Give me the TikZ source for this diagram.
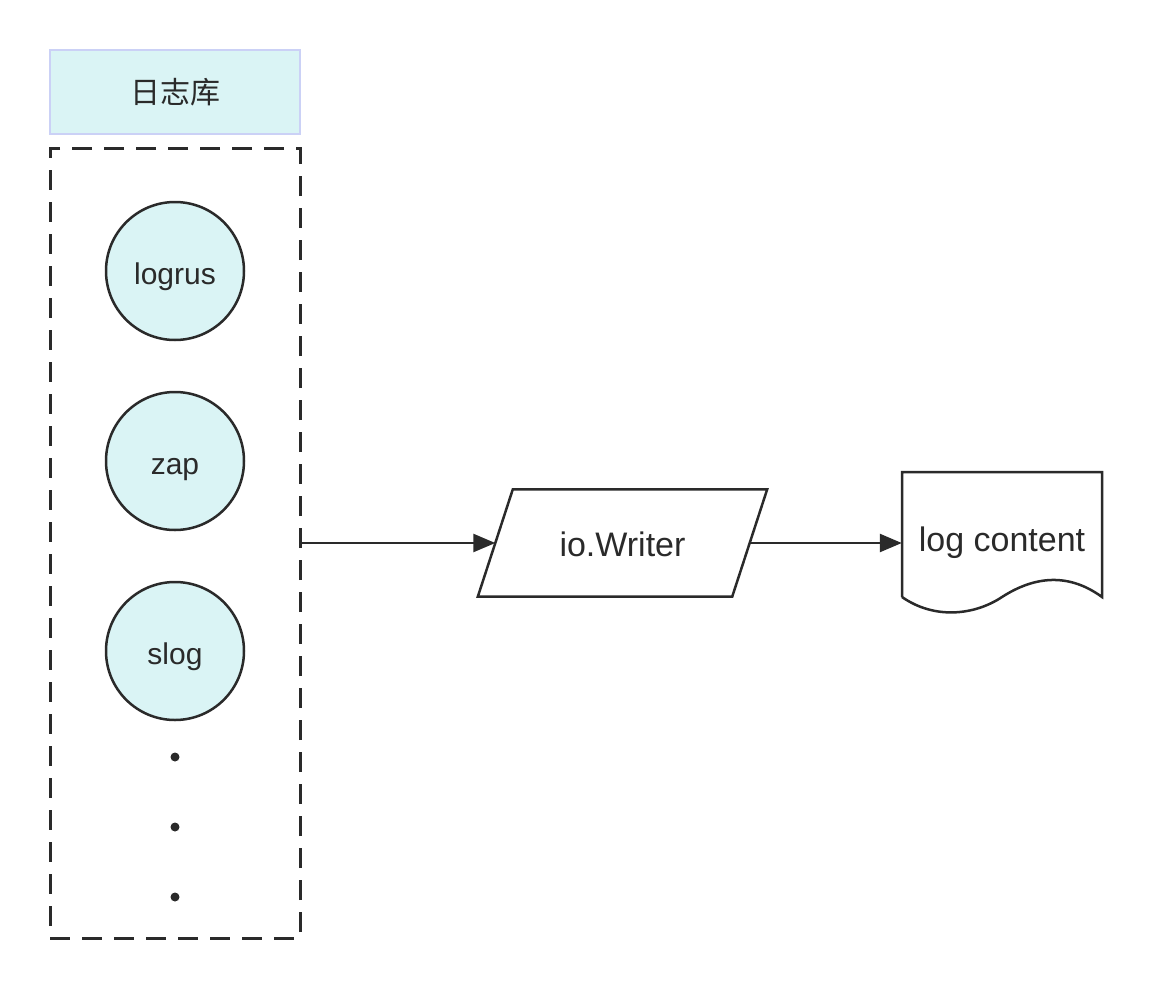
\documentclass[tikz,border=0pt]{standalone}
\usepackage{fontspec}
\setmainfont{Liberation Sans}
\newfontfamily\cjk{Noto Sans CJK SC}
\usetikzlibrary{arrows.meta}
\definecolor{ink}{HTML}{2A2A2A}
\definecolor{cyanfill}{HTML}{DAF4F5}
\definecolor{lavender}{HTML}{CBD1F6}
\begin{document}
\begin{tikzpicture}[x=1pt,y=-1pt,
    txt/.style={text=ink,text height=32pt,text depth=6pt},
    lib/.style={circle,draw=ink,line width=2.5pt,fill=cyanfill,minimum size=138pt,
      inner sep=0pt,txt,font=\fontsize{30}{34}\selectfont},
    dot/.style={circle,fill=ink,minimum size=9pt,inner sep=0pt},
    link/.style={-{Triangle[length=22pt,width=18pt]},draw=ink,line width=2.5pt}]
      \useasboundingbox (0,0) rectangle (1152,988);
      \draw
        (175,92) node[draw=lavender,line width=2.5pt,fill=cyanfill,minimum width=250pt,
          minimum height=84pt,text=ink,font=\cjk\fontsize{30}{34}\selectfont] (title){日志库}
        (175,543) node[draw=ink,line width=3pt,dash pattern=on 20pt off 12pt,
          minimum width=250pt,minimum height=790pt] (libs){}
        (175,271) node[lib] (logrus){logrus}
        (175,461) node[lib] (zap){zap}
        (175,651) node[lib] (slog){slog}
        (175,757) node[dot] (dot1){}
        (175,827) node[dot] (dot2){}
        (175,897) node[dot] (dot3){}
        (622.5,543) node[minimum width=254pt,minimum height=107pt,txt,
          font=\fontsize{34}{38}\selectfont] (writer){io.Writer}
        (1002,538) node[minimum width=200pt,txt,font=\fontsize{34}{38}\selectfont] (doc){log content};
      % parallelogram round io.Writer
      \draw[ink,line width=2.5pt]
        ([xshift=-17.5pt]writer.south west) -- ([xshift=17.5pt]writer.north west)
        -- ([xshift=17.5pt]writer.north east) -- ([xshift=-17.5pt]writer.south east) -- cycle;
      % document outline
      \draw[ink,line width=2.5pt]
        (902,597) -- (902,472) -- (1102,472) -- (1102,597)
        .. controls (1065,570) and (1030,579) .. (1002,597)
        .. controls (975,615) and (935,620) .. (902,597);
      \begin{scope}[link]
        \draw (libs) to (writer);
        \draw (writer) to (writer -| doc.west);
      \end{scope}
    \end{tikzpicture}
\end{document}
